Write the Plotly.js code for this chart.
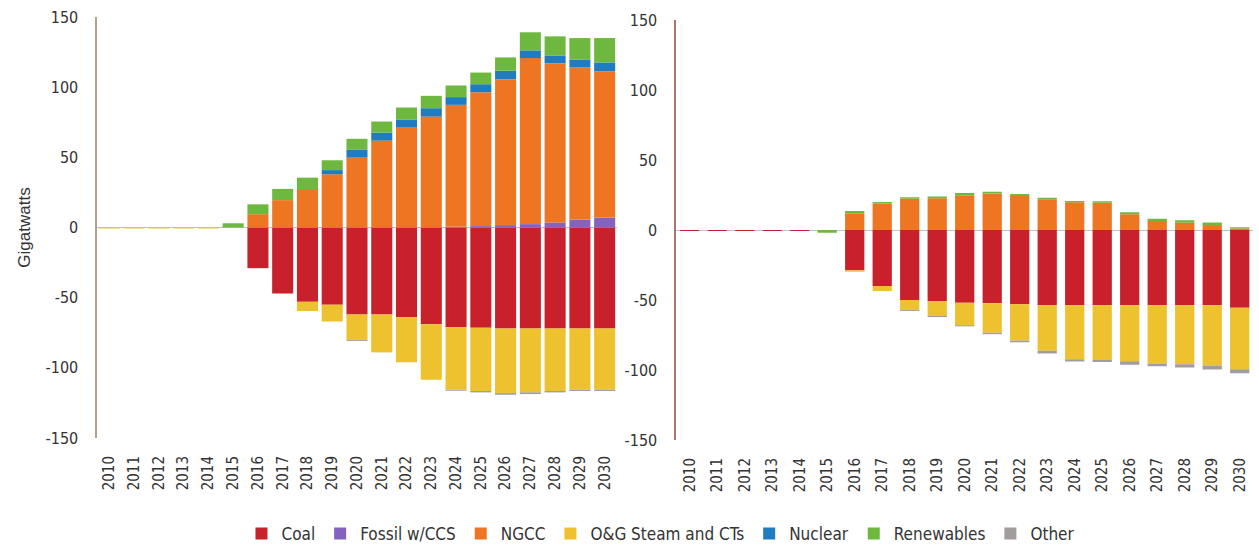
<!DOCTYPE html>
<html>
<head>
<meta charset="utf-8">
<script src="https://cdn.plot.ly/plotly-3.0.1.min.js"></script>
<style>html,body{margin:0;padding:0;background:#fff;}#chart{width:1259px;height:546px;}</style>
</head>
<body>
<div id="chart"></div>
<script>
const years = ["2010","2011","2012","2013","2014","2015","2016","2017","2018","2019","2020","2021","2022","2023","2024","2025","2026","2027","2028","2029","2030"];
const seriesNames = ["Coal","Fossil w/CCS","NGCC","O&G Steam and CTs","Nuclear","Renewables","Other"];
const yTicks = [-150,-100,-50,0,50,100,150];

// Left panel (GW)
const leftCoal    = [0,0,0,0,0,0,-29,-47,-53,-55,-62,-62,-64,-69,-71,-71.5,-72,-72,-72,-72,-72];
const leftCCS     = [0,0,0,0,0,0,0,0,0,0,0,0,0,0,0.5,1,1.7,2.4,3.6,5.7,7.1];
const leftNGCC    = [0,0,0,0,0,0,9.5,19.5,26.7,37.9,49.8,61.9,71.2,79,86.9,95.4,104,118.3,113.5,108.3,104.1];
const leftOG      = [-0.7,-0.7,-0.7,-0.7,-0.7,0,0,0,-6.5,-12,-18,-27,-32,-39.5,-44.5,-45,-46,-45.5,-44.5,-43.5,-43.5];
const leftNuclear = [0,0,0,0,0,0,0,0,0,3,5.5,5.7,5.5,6,5.5,5.7,6,5.5,5.5,5.5,6.4];
const leftRenew   = [0,0,0,0,0,3,7,8,8.8,7,7.9,7.9,8.8,8.8,8.3,8.3,9.5,12.9,13.6,15.5,17.4];
const leftOther   = [0,0,0,0,0,0,0,0,0,0,-0.8,0,0,0,-0.8,-1,-1.2,-1.2,-1,-1,-1];

// Right panel (GW)
const rightCoal    = [-0.8,-0.8,-0.8,-0.8,-0.8,0,-28.8,-40,-50,-50.7,-52,-52.4,-53,-53.8,-53.8,-53.8,-53.8,-53.8,-53.8,-53.8,-55.5];
const rightCCS     = [0,0,0,0,0,0,0,0,0,0,0,0,0,0,0,0,0,0,0,0,0];
const rightNGCC    = [0,0,0,0,0,0,11.9,19,22.4,22.6,24.5,26,24.3,21.9,19.8,19.5,11.2,6.4,5.2,3.6,1];
const rightOG      = [0,0,0,0,0,0,-1,-3.6,-7,-10.7,-16,-21,-26,-32.5,-38.5,-39,-40,-41.5,-42,-43,-44];
const rightNuclear = [0,0,0,0,0,0,0,0,0,0,0,0,0,0,0,0,0,0,0,0,0];
const rightRenew   = [0,0,0,0,0,-2,1.7,1,1,1.4,1.9,1.4,1.4,1.2,1,1,1.4,1.7,1.7,1.7,1];
const rightOther   = [0,0,0,0,0,0,0,0,-0.8,-0.8,-0.8,-1,-1.2,-1.9,-1.7,-1.4,-2.4,-2.1,-2.4,-2.9,-2.9];

const colors = ["#c8212b","#8662bf","#ee7623","#eec12f","#1f7cc0","#6fb840","#a39c9c"];
const leftData = [leftCoal,leftCCS,leftNGCC,leftOG,leftNuclear,leftRenew,leftOther];
const rightData = [rightCoal,rightCCS,rightNGCC,rightOG,rightNuclear,rightRenew,rightOther];

const traces = [];
seriesNames.forEach((name,i)=>{
  traces.push({type:'bar',name:name,x:years,y:leftData[i],xaxis:'x',yaxis:'y',
    marker:{color:colors[i],line:{width:0}},width:0.85,legendgroup:name,showlegend:true});
});
seriesNames.forEach((name,i)=>{
  traces.push({type:'bar',name:name,x:years,y:rightData[i],xaxis:'x2',yaxis:'y2',
    marker:{color:colors[i],line:{width:0}},width:0.7,legendgroup:name,showlegend:false});
});

const font = "'Liberation Sans Narrow','DejaVu Sans Condensed','Roboto Condensed',Arial,sans-serif";
const tickFont = {family:font,size:16,color:'#333'};
const xTickFont = {family:font,size:15,color:'#333'};

const yBase = {range:[-150,150],tickvals:yTicks,ticktext:yTicks.map(String),showgrid:false,zeroline:true,
  zerolinecolor:'#b7c3cf',zerolinewidth:1,showline:true,linecolor:'#b4a08e',linewidth:1.5,ticks:'',
  tickfont:tickFont,automargin:false,ticklabelstandoff:14,fixedrange:true};
const xBase = {type:'category',categoryorder:'array',categoryarray:years,range:[-0.5,20.5],showgrid:false,
  zeroline:false,showline:false,ticks:'',tickangle:-90,tickfont:xTickFont,automargin:false,ticklabelstandoff:14,fixedrange:true};

const layout = {
  width:1259,height:546,margin:{l:0,r:0,t:0,b:0,autoexpand:false},
  paper_bgcolor:'#fff',plot_bgcolor:'rgba(0,0,0,0)',
  barmode:'relative',bargap:0.15,
  font:{family:font,color:'#333'},
  xaxis:Object.assign({},xBase,{domain:[0.0770,0.4901],anchor:'y'}),
  yaxis:Object.assign({},yBase,{domain:[0.1978,0.9689],anchor:'x',
    title:{text:'Gigatwatts',font:{family:"'Liberation Sans',Arial,sans-serif",size:17,color:'#333'},standoff:10}}),
  xaxis2:Object.assign({},xBase,{domain:[0.5369,0.9956],anchor:'y2'}),
  yaxis2:Object.assign({},yBase,{domain:[0.1941,0.9634],anchor:'x2',linecolor:'#a8766a'}),
  legend:{orientation:'h',x:0.525,xanchor:'center',y:-0.011,yanchor:'bottom',
    font:{family:font,size:17,color:'#333'},traceorder:'normal',itemwidth:30,bgcolor:'rgba(0,0,0,0)'},
  showlegend:true
};

Plotly.newPlot('chart',traces,layout,{displayModeBar:false,staticPlot:true});
</script>
</body>
</html>
